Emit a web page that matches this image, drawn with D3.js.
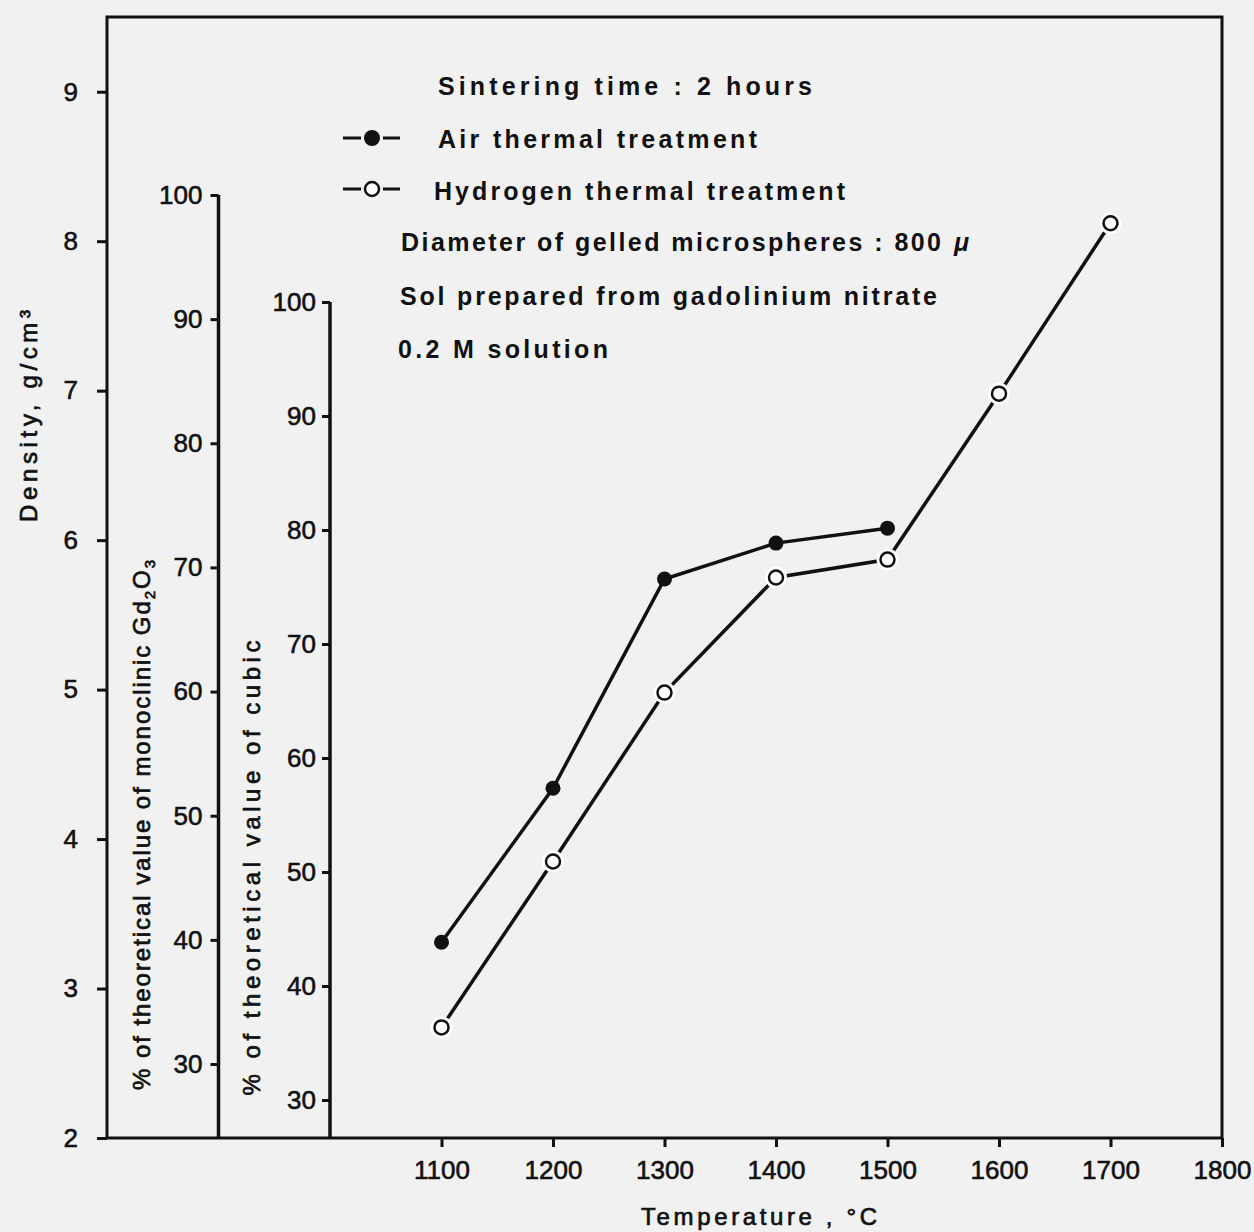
<!DOCTYPE html>
<html>
<head>
<meta charset="utf-8">
<script src="https://cdn.jsdelivr.net/npm/d3@7"></script>
<style>
  html, body { margin: 0; padding: 0; background: #f1f1f1; }
  svg text { font-family: "Liberation Sans", "DejaVu Sans", sans-serif; fill: #111; }
  .tick text { font-size: 26px; stroke: #111; stroke-width: 0.6px; }
  .note { font-size: 25px; font-weight: bold; }
  .title { font-size: 24px; stroke: #111; stroke-width: 0.7px; }
</style>
</head>
<body>
<div id="chart"></div>
<script>
// Sintered Gd2O3 microspheres: density vs temperature, two atmospheres
const temps = [1100, 1200, 1300, 1400, 1500, 1600, 1700];
const airDensity = [3.31, 4.34, 5.74, 5.98, 6.08];                      // g/cm3, 1100..1500
const hydrogenDensity = [2.74, 3.85, 4.98, 5.75, 5.87, 6.98, 8.12];    // g/cm3, 1100..1700

const densityTicks = [2, 3, 4, 5, 6, 7, 8, 9];
const monoTicks = [30, 40, 50, 60, 70, 80, 90, 100];
const cubicTicks = [30, 40, 50, 60, 70, 80, 90, 100];
const tempTicks = [1100, 1200, 1300, 1400, 1500, 1600, 1700, 1800];

const noteLines = [
  "Sintering  time  : 2  hours",
  "Air  thermal  treatment",
  "Hydrogen  thermal  treatment",
  "Diameter  of  gelled  microspheres : 800",
  "Sol  prepared  from  gadolinium  nitrate",
  "0.2  M  solution"
];

(function () {
  const W = 1254, H = 1232;
  const left = 107, right = 1222, top = 17, bottom = 1138;

  const svg = d3.select("#chart").append("svg")
    .attr("width", W).attr("height", H);

  svg.append("rect").attr("width", W).attr("height", H).attr("fill", "#f1f1f1");

  // scales: temperature axis starts at the density axis (800 °C)
  const x = d3.scaleLinear().domain([800, 1800]).range([left, right]);
  const yDens = d3.scaleLinear().domain([2, 9.5]).range([bottom, top]);
  const yMono = d3.scaleLinear().domain([30, 100]).range([1064, 195]);
  const yCubic = d3.scaleLinear().domain([30, 100]).range([1100, 302]);

  const ink = "#111";

  // frame
  svg.append("path")
    .attr("d", `M${left},${bottom}V${top}H${right}V${bottom}H${left}`)
    .attr("fill", "none").attr("stroke", ink).attr("stroke-width", 3);

  // density axis (frame's left edge)
  const gD = svg.append("g").attr("transform", `translate(${left},0)`)
    .call(d3.axisLeft(yDens).tickValues(densityTicks).tickSize(10).tickPadding(19));
  gD.select(".domain").remove();

  // monoclinic % axis
  const xMono = x(900);
  const gM = svg.append("g").attr("transform", `translate(${xMono},0)`)
    .call(d3.axisLeft(yMono).tickValues(monoTicks).tickSize(8).tickPadding(8));
  gM.select(".domain").remove();
  svg.append("line").attr("x1", xMono).attr("x2", xMono)
    .attr("y1", yMono(100)).attr("y2", bottom)
    .attr("stroke", ink).attr("stroke-width", 3.5);

  // cubic % axis
  const xCub = x(1000);
  const gC = svg.append("g").attr("transform", `translate(${xCub},0)`)
    .call(d3.axisLeft(yCubic).tickValues(cubicTicks).tickSize(8).tickPadding(6));
  gC.select(".domain").remove();
  svg.append("line").attr("x1", xCub).attr("x2", xCub)
    .attr("y1", yCubic(100)).attr("y2", bottom)
    .attr("stroke", ink).attr("stroke-width", 3.5);

  // temperature axis
  const gX = svg.append("g").attr("transform", `translate(0,${bottom})`)
    .call(d3.axisBottom(x).tickValues(tempTicks).tickFormat(d3.format("d"))
      .tickSize(9).tickPadding(14));
  gX.select(".domain").remove();

  svg.selectAll(".tick line").attr("stroke", ink).attr("stroke-width", 3);
  svg.selectAll(".tick text").attr("fill", ink);

  // axis titles
  svg.append("text").attr("class", "title")
    .attr("transform", "translate(37,416) rotate(-90)")
    .attr("text-anchor", "middle")
    .attr("textLength", 212).attr("lengthAdjust", "spacing")
    .text("Density,  g/cm\u00b3");

  const monoTitle = svg.append("text").attr("class", "title")
    .attr("transform", "translate(150,825) rotate(-90)")
    .attr("text-anchor", "middle")
    .attr("textLength", 530).attr("lengthAdjust", "spacing");
  monoTitle.append("tspan").text("%  of  theoretical  value  of  monoclinic  Gd");
  monoTitle.append("tspan").attr("dy", 5).attr("font-size", 15).text("2");
  monoTitle.append("tspan").attr("dy", -5).text("O");
  monoTitle.append("tspan").attr("dy", 5).attr("font-size", 15).text("3");

  svg.append("text").attr("class", "title")
    .attr("transform", "translate(260,868) rotate(-90)")
    .attr("text-anchor", "middle")
    .attr("textLength", 455).attr("lengthAdjust", "spacing")
    .text("%  of  theoretical  value  of  cubic");

  svg.append("text").attr("class", "title")
    .attr("x", 759).attr("y", 1225)
    .attr("text-anchor", "middle")
    .attr("textLength", 236).attr("lengthAdjust", "spacing")
    .text("Temperature ,  \u00b0C");

  // series
  const air = airDensity.map((d, i) => ({ t: temps[i], v: d }));
  const hyd = hydrogenDensity.map((d, i) => ({ t: temps[i], v: d }));
  const line = d3.line().x(d => x(d.t)).y(d => yDens(d.v));

  svg.append("path").datum(air).attr("d", line)
    .attr("fill", "none").attr("stroke", ink).attr("stroke-width", 3.5);
  svg.append("path").datum(hyd).attr("d", line)
    .attr("fill", "none").attr("stroke", ink).attr("stroke-width", 3.5);

  svg.selectAll(".air").data(air).join("circle").attr("class", "air")
    .attr("cx", d => x(d.t)).attr("cy", d => yDens(d.v)).attr("r", 7.5)
    .attr("fill", ink);

  svg.selectAll(".hydHalo").data(hyd).join("circle").attr("class", "hydHalo")
    .attr("cx", d => x(d.t)).attr("cy", d => yDens(d.v)).attr("r", 11)
    .attr("fill", "#fff");
  svg.selectAll(".hyd").data(hyd).join("circle").attr("class", "hyd")
    .attr("cx", d => x(d.t)).attr("cy", d => yDens(d.v)).attr("r", 7)
    .attr("fill", "#fff").attr("stroke", ink).attr("stroke-width", 2.5);

  // notes and legend
  const notes = [
    { x: 438, y: 95, w: 374 },
    { x: 438, y: 148, w: 319 },
    { x: 434, y: 200, w: 411 },
    { x: 401, y: 251, w: 540 },
    { x: 400, y: 305, w: 537 },
    { x: 398, y: 358, w: 210 }
  ];
  notes.forEach((n, i) => {
    svg.append("text").attr("class", "note")
      .attr("x", n.x).attr("y", n.y)
      .attr("textLength", n.w).attr("lengthAdjust", "spacing")
      .text(noteLines[i]);
  });
  svg.append("text").attr("class", "note")
    .attr("x", 954).attr("y", 251).attr("font-style", "italic")
    .text("\u03bc");

  // legend markers
  const legY = [138, 189];
  legY.forEach((ly, i) => {
    svg.append("line").attr("x1", 343).attr("x2", 400).attr("y1", ly).attr("y2", ly)
      .attr("stroke", ink).attr("stroke-width", 3);
    svg.append("circle").attr("cx", 372).attr("cy", ly).attr("r", 11).attr("fill", "#f1f1f1");
    if (i === 0) {
      svg.append("circle").attr("cx", 372).attr("cy", ly).attr("r", 8).attr("fill", ink);
    } else {
      svg.append("circle").attr("cx", 372).attr("cy", ly).attr("r", 7)
        .attr("fill", "#fff").attr("stroke", ink).attr("stroke-width", 2.5);
    }
  });
})();
</script>
</body>
</html>
